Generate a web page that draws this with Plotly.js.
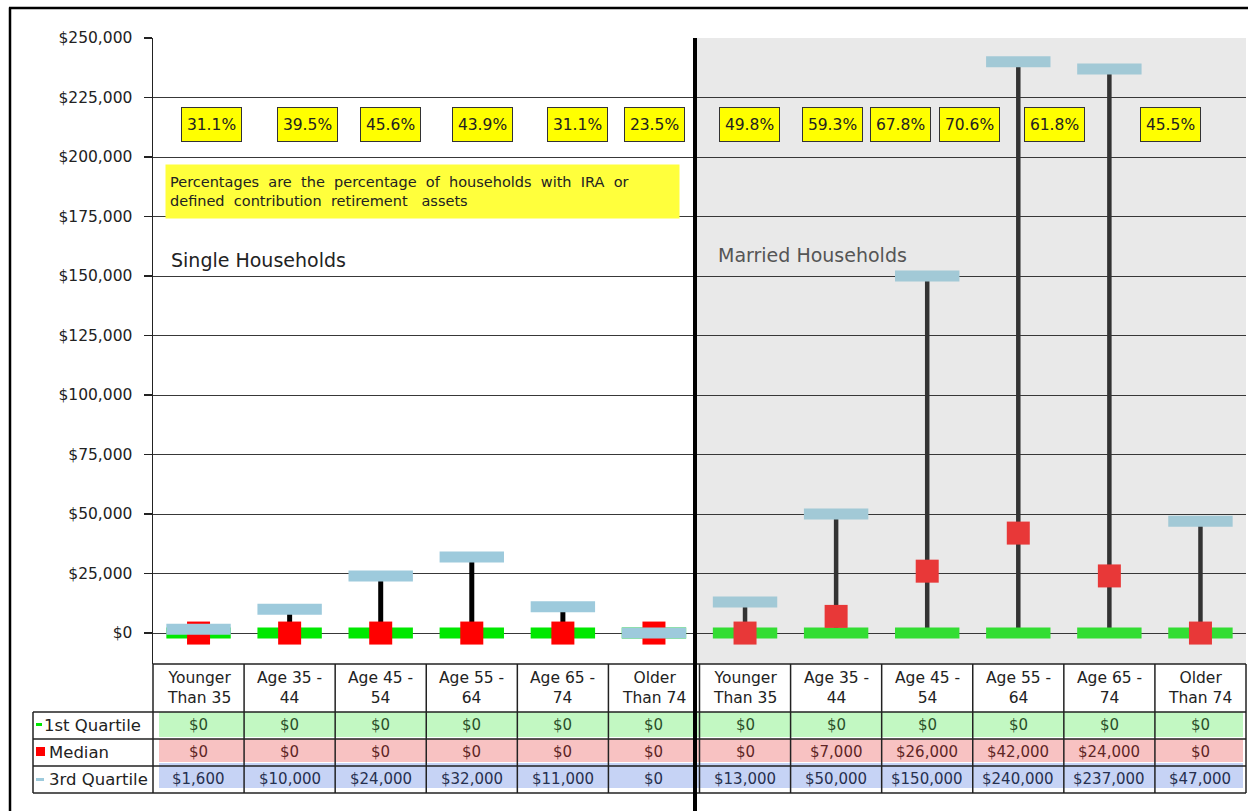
<!DOCTYPE html>
<html>
<head>
<meta charset="utf-8">
<script src="https://cdn.plot.ly/plotly-3.0.1.min.js"></script>
<style>
  html, body { margin: 0; padding: 0; background: #ffffff; }
  #chart { width: 1248px; height: 811px; }
</style>
</head>
<body>
<div id="chart"></div>
<script>
// ---------------- DATA ----------------
const categories = ["Younger<br>Than 35", "Age 35 -<br>44", "Age 45 -<br>54", "Age 55 -<br>64", "Age 65 -<br>74", "Older<br>Than 74"];
const singleQ1     = [0, 0, 0, 0, 0, 0];
const singleMedian = [0, 0, 0, 0, 0, 0];
const singleQ3     = [1600, 10000, 24000, 32000, 11000, 0];
const marriedQ1     = [0, 0, 0, 0, 0, 0];
const marriedMedian = [0, 7000, 26000, 42000, 24000, 0];
const marriedQ3     = [13000, 50000, 150000, 240000, 237000, 47000];
const singlePct  = ["31.1%", "39.5%", "45.6%", "43.9%", "31.1%", "23.5%"];
const marriedPct = ["49.8%", "59.3%", "67.8%", "70.6%", "61.8%", "45.5%"];
const yTickVals = [0, 25000, 50000, 75000, 100000, 125000, 150000, 175000, 200000, 225000, 250000];
const rowNames = ["1st Quartile", "Median", "3rd Quartile"];
const noteText = "Percentages  are  the  percentage  of  households  with  IRA  or<br>defined  contribution  retirement   assets";

// ---------------- LAYOUT HELPERS ----------------
const W = 1248, H = 811;
const L = 153, R = 1246, T = 38, B = 664;
const px = p => (p - L) / (R - L);
const py = p => (B - p) / (B - T);
const fmt = v => "$" + v.toLocaleString("en-US");
const FONT = "DejaVu Sans, Arial, sans-serif";

const nS = singleQ3.length;
const xs = singleQ3.map((_, i) => i);
const xm = marriedQ3.map((_, i) => i + nS);
const allQ1 = singleQ1.concat(marriedQ1);
const allMed = singleMedian.concat(marriedMedian);
const allQ3 = singleQ3.concat(marriedQ3);
const allPct = singlePct.concat(marriedPct);
const allCats = categories.concat(categories);

function whisker(x, lo, hi) {
  const X = [], Y = [];
  x.forEach((xi, i) => { X.push(xi, xi, null); Y.push(lo[i], hi[i], null); });
  return {X, Y};
}
const ws = whisker(xs, singleQ1, singleQ3);
const wm = whisker(xm, marriedQ1, marriedQ3);

const colS = {green: "#00e800", red: "#ff0000", blue: "#9dcadc", line: "#000000"};
const colM = {green: "#33dd33", red: "#e83838", blue: "#a2c9d6", line: "#333333"};

function dash(x, y, c) {
  return {type: "scatter", mode: "markers", x: x, y: y, hoverinfo: "skip", showlegend: false,
    marker: {symbol: "line-ew", size: 46, color: c, line: {width: 11, color: c}}, cliponaxis: false};
}
function sq(x, y, c) {
  return {type: "scatter", mode: "markers", x: x, y: y, hoverinfo: "skip", showlegend: false,
    marker: {symbol: "square", size: 23, color: c, line: {width: 0}}, cliponaxis: false};
}

const traces = [
  {type: "scatter", mode: "lines", x: ws.X, y: ws.Y, line: {color: colS.line, width: 5}, hoverinfo: "skip", showlegend: false},
  {type: "scatter", mode: "lines", x: wm.X, y: wm.Y, line: {color: colM.line, width: 4.5}, hoverinfo: "skip", showlegend: false},
  dash(xs, singleQ1, colS.green),
  dash(xm, marriedQ1, colM.green),
  sq(xs, singleMedian, colS.red),
  sq(xm, marriedMedian, colM.red),
  dash(xs, singleQ3, colS.blue),
  dash(xm, marriedQ3, colM.blue)
];

// ---------------- SHAPES ----------------
const shapes = [];
const LINE = "#222222";
// grey background for married households
shapes.push({type: "rect", xref: "paper", yref: "paper", x0: px(697), x1: 1, y0: 0, y1: 1,
  fillcolor: "#e9e9e9", line: {width: 0}, layer: "below"});
// table cell colour bands
const bandColors = ["#c2f8c2", "#f8c2c2", "#c6d3f5"];
const bandY = [[712, 737], [739, 762], [763, 788]];
bandY.forEach((b, i) => shapes.push({type: "rect", xref: "paper", yref: "paper",
  x0: px(159), x1: px(1243), y0: py(b[1]), y1: py(b[0]), fillcolor: bandColors[i], line: {width: 0}}));
// table horizontal lines
shapes.push({type: "line", xref: "paper", yref: "paper", x0: 0, x1: 1, y0: 0, y1: 0, line: {color: LINE, width: 1.5}});
[712, 739, 766, 793].forEach(y => shapes.push({type: "line", xref: "paper", yref: "paper",
  x0: px(33), x1: 1, y0: py(y), y1: py(y), line: {color: LINE, width: 1.5}}));
// table vertical lines
shapes.push({type: "line", xref: "paper", yref: "paper", x0: px(33), x1: px(33), y0: py(712), y1: py(793), line: {color: LINE, width: 1.5}});
for (let k = 0; k <= allCats.length; k++) {
  const xp = k / allCats.length;
  shapes.push({type: "line", xref: "paper", yref: "paper", x0: xp, x1: xp, y0: py(664), y1: py(793), line: {color: LINE, width: 1.5}});
}
// legend keys
shapes.push({type: "rect", xref: "paper", yref: "paper", x0: px(36), x1: px(42), y0: py(726), y1: py(723), fillcolor: colS.green, line: {width: 0}});
shapes.push({type: "rect", xref: "paper", yref: "paper", x0: px(36), x1: px(45), y0: py(756), y1: py(747), fillcolor: colS.red, line: {width: 0}});
shapes.push({type: "rect", xref: "paper", yref: "paper", x0: px(36), x1: px(44), y0: py(781), y1: py(778), fillcolor: colS.blue, line: {width: 0}});
// thick separator between single and married
shapes.push({type: "line", xref: "paper", yref: "paper", x0: px(695), x1: px(695), y0: py(811), y1: 1, line: {color: "#000000", width: 4}});
// outer frame
shapes.push({type: "line", xref: "paper", yref: "paper", x0: px(10), x1: px(10), y0: py(811), y1: py(7.5), line: {color: "#000000", width: 2.5}});
shapes.push({type: "line", xref: "paper", yref: "paper", x0: px(9), x1: px(1248), y0: py(8), y1: py(8), line: {color: "#000000", width: 2.5}});

// ---------------- ANNOTATIONS ----------------
const annotations = [];
// percentage boxes
const pctBoxX = [211, 307, 390, 482, 577, 654, 750, 832, 900, 969, 1054, 1170];
allPct.forEach((t, i) => annotations.push({xref: "paper", yref: "paper", x: px(pctBoxX[i]), y: py(125),
  xanchor: "center", yanchor: "middle", text: t, showarrow: false, width: 59, height: 33, borderpad: 0,
  bgcolor: "#ffff00", bordercolor: "#333333", borderwidth: 1, font: {family: FONT, size: 15.5, color: "#222222"}}));
// note box
annotations.push({xref: "paper", yref: "paper", x: px(165), y: py(164), xanchor: "left", yanchor: "top",
  text: noteText, showarrow: false, align: "left", width: 505, height: 45, borderpad: 4,
  bgcolor: "#ffff3c", font: {family: FONT, size: 14.5, color: "#222222"}});
// group titles
annotations.push({xref: "paper", yref: "paper", x: px(169), y: py(260), xanchor: "left", yanchor: "middle",
  text: "Single Households", showarrow: false, font: {family: FONT, size: 19, color: "#222222"}});
annotations.push({xref: "paper", yref: "paper", x: px(716), y: py(255), xanchor: "left", yanchor: "middle",
  text: "Married Households", showarrow: false, font: {family: FONT, size: 19, color: "#555555"}});
// table header categories
allCats.forEach((c, i) => annotations.push({xref: "x", yref: "paper", x: i, y: py(688), xanchor: "center", yanchor: "middle",
  text: c, showarrow: false, font: {family: FONT, size: 15.5, color: "#222222"}}));
// row labels
const rowLabelX = [42, 47, 47];
const rowY = [725, 752, 779];
rowNames.forEach((r, i) => annotations.push({xref: "paper", yref: "paper", x: px(rowLabelX[i]), y: py(rowY[i]),
  xanchor: "left", yanchor: "middle", text: r, showarrow: false, font: {family: FONT, size: 16.5, color: "#222222"}}));
// table values
const rowData = [allQ1, allMed, allQ3];
const rowTextColors = ["#2a4f2a", "#5e2626", "#26304f"];
rowData.forEach((arr, r) => arr.forEach((v, i) => annotations.push({xref: "x", yref: "paper", x: i, y: py(rowY[r]),
  xanchor: "center", yanchor: "middle", text: fmt(v), showarrow: false, font: {family: FONT, size: 15, color: rowTextColors[r]}})));

// ---------------- LAYOUT ----------------
const layout = {
  width: W, height: H,
  margin: {l: L, r: W - R, t: T, b: H - B, pad: 0},
  paper_bgcolor: "#ffffff",
  plot_bgcolor: "rgba(0,0,0,0)",
  showlegend: false,
  hovermode: false,
  xaxis: {range: [-0.5, allCats.length - 0.5], showgrid: false, zeroline: false, showticklabels: false,
    ticks: "", showline: false, fixedrange: true},
  yaxis: {range: [-13000, 250000], tickvals: yTickVals, ticktext: yTickVals.map(fmt),
    showgrid: true, gridcolor: "#383838", gridwidth: 1, zeroline: false,
    showline: true, linecolor: "#222222", linewidth: 1.5,
    ticks: "outside", ticklen: 8, tickcolor: "#222222", tickwidth: 1.5, ticklabelstandoff: 8,
    tickfont: {family: FONT, size: 15.5, color: "#222222"}, fixedrange: true},
  shapes: shapes,
  annotations: annotations
};

Plotly.newPlot("chart", traces, layout, {displayModeBar: false, staticPlot: true});
</script>
</body>
</html>
